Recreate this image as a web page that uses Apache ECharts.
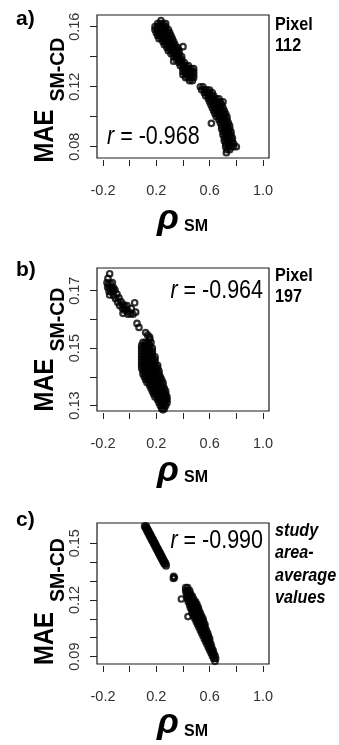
<!DOCTYPE html>
<html><head><meta charset="utf-8">
<script src="https://cdn.jsdelivr.net/npm/echarts@6/dist/echarts.min.js"></script>
<style>html,body{margin:0;padding:0;background:#fff}#c{width:339px;height:745px}</style>
</head><body><div id="c"></div>
<script>
// ---- tick values / labels ----
const xTicks = [-0.2, 0, 0.2, 0.4, 0.6, 0.8, 1.0];
const xTickLabels = [-0.2, 0.2, 0.6, 1.0];
const yTicksA = [0.08, 0.10, 0.12, 0.14, 0.16];
const yTickLabelsA = [0.08, 0.12, 0.16];
const yTicksB = [0.13, 0.14, 0.15, 0.16, 0.17];
const yTickLabelsB = [0.13, 0.15, 0.17];
const yTicksC = [0.09, 0.10, 0.11, 0.12, 0.13, 0.14, 0.15];
const yTickLabelsC = [0.09, 0.12, 0.15];
const panelLetters = ['a)', 'b)', 'c)'];
const rValues = ['-0.968', '-0.964', '-0.990'];
const sideNotes = [['Pixel', '112'], ['Pixel', '197'], ['study', 'area-', 'average', 'values']];

// ---- scatter values: rows of [MAE, [rho values...]] ----
const rowsA = [
  [0.164, [0.235]],
  [0.162, [0.21, 0.23, 0.25, 0.27]],
  [0.160, [0.19, 0.21, 0.23, 0.25, 0.27]],
  [0.158, [0.19, 0.21, 0.23, 0.25, 0.27, 0.29]],
  [0.156, [0.20, 0.22, 0.24, 0.26, 0.28, 0.30]],
  [0.154, [0.21, 0.23, 0.25, 0.27, 0.29, 0.31]],
  [0.152, [0.22, 0.24, 0.26, 0.28, 0.30, 0.32]],
  [0.150, [0.25, 0.27, 0.29, 0.31, 0.33]],
  [0.148, [0.26, 0.28, 0.30, 0.32, 0.34]],
  [0.146, [0.28, 0.30, 0.32, 0.34, 0.36]],
  [0.144, [0.29, 0.31, 0.33, 0.35, 0.37]],
  [0.142, [0.31, 0.33, 0.35, 0.37]],
  [0.140, [0.33, 0.35, 0.37, 0.39]],
  [0.138, [0.35, 0.37, 0.39]],
  [0.136, [0.37, 0.39, 0.41]],
  [0.134, [0.38, 0.40, 0.42, 0.44]],
  [0.132, [0.40, 0.42, 0.44, 0.46, 0.48]],
  [0.130, [0.40, 0.42, 0.44, 0.46, 0.48]],
  [0.128, [0.40, 0.42, 0.44, 0.46, 0.48]],
  [0.126, [0.42, 0.44, 0.46, 0.48]],
  [0.124, [0.45, 0.47]],
  [0.120, [0.53, 0.55]],
  [0.118, [0.54, 0.56, 0.58]],
  [0.116, [0.56, 0.58, 0.60, 0.62]],
  [0.114, [0.57, 0.59, 0.61, 0.63]],
  [0.112, [0.59, 0.61, 0.63, 0.65, 0.67]],
  [0.110, [0.60, 0.62, 0.64, 0.66, 0.68, 0.70]],
  [0.108, [0.61, 0.63, 0.65, 0.67, 0.69]],
  [0.106, [0.62, 0.64, 0.66, 0.68, 0.70]],
  [0.104, [0.63, 0.65, 0.67, 0.69, 0.71]],
  [0.102, [0.64, 0.66, 0.68, 0.70, 0.72]],
  [0.100, [0.65, 0.67, 0.69, 0.71, 0.73]],
  [0.098, [0.67, 0.69, 0.71, 0.73]],
  [0.096, [0.68, 0.70, 0.72, 0.74]],
  [0.094, [0.69, 0.71, 0.73, 0.75]],
  [0.092, [0.69, 0.71, 0.73, 0.75]],
  [0.090, [0.70, 0.72, 0.74, 0.76]],
  [0.088, [0.70, 0.72, 0.74, 0.76]],
  [0.086, [0.71, 0.73, 0.75, 0.77]],
  [0.084, [0.71, 0.73, 0.75, 0.77]],
  [0.082, [0.72, 0.74, 0.76, 0.78]],
  [0.080, [0.72, 0.74, 0.76, 0.78, 0.80]],
  [0.078, [0.73, 0.75]],
  [0.076, [0.725]]
];
const extraA = [[0.40, 0.1467], [0.33, 0.137], [0.60, 0.1178], [0.613, 0.0956]];

const rowsB = [
  [0.152, [0.10, 0.12, 0.14, 0.16]],
  [0.151, [0.09, 0.11, 0.13, 0.15]],
  [0.150, [0.09, 0.11, 0.13, 0.15, 0.17]],
  [0.149, [0.09, 0.11, 0.13, 0.15, 0.17]],
  [0.148, [0.09, 0.11, 0.13, 0.15, 0.17]],
  [0.147, [0.09, 0.11, 0.13, 0.15, 0.17, 0.19]],
  [0.146, [0.09, 0.11, 0.13, 0.15, 0.17, 0.19]],
  [0.145, [0.09, 0.11, 0.13, 0.15, 0.17, 0.19]],
  [0.144, [0.09, 0.11, 0.13, 0.15, 0.17, 0.19, 0.21]],
  [0.143, [0.09, 0.11, 0.13, 0.15, 0.17, 0.19, 0.21]],
  [0.142, [0.10, 0.12, 0.14, 0.16, 0.18, 0.20, 0.22]],
  [0.141, [0.10, 0.12, 0.14, 0.16, 0.18, 0.20, 0.22]],
  [0.140, [0.11, 0.13, 0.15, 0.17, 0.19, 0.21, 0.23]],
  [0.139, [0.12, 0.14, 0.16, 0.18, 0.20, 0.22, 0.24]],
  [0.138, [0.13, 0.15, 0.17, 0.19, 0.21, 0.23, 0.25]],
  [0.137, [0.15, 0.17, 0.19, 0.21, 0.23, 0.25]],
  [0.136, [0.16, 0.18, 0.20, 0.22, 0.24, 0.26]],
  [0.135, [0.17, 0.19, 0.21, 0.23, 0.25, 0.27]],
  [0.134, [0.18, 0.20, 0.22, 0.24, 0.26, 0.27]],
  [0.133, [0.19, 0.21, 0.23, 0.25, 0.27, 0.28]],
  [0.132, [0.21, 0.23, 0.25, 0.27, 0.28]],
  [0.131, [0.22, 0.24, 0.26, 0.28]],
  [0.130, [0.23, 0.25, 0.27]],
  [0.129, [0.24, 0.26]],
  [0.1285, [0.25]]
];
const extraB = [
  [-0.15, 0.1759], [-0.163, 0.1743], [-0.17, 0.1728], [-0.16, 0.1722], [-0.145, 0.1725],
  [-0.13, 0.1728], [-0.165, 0.1712], [-0.15, 0.171], [-0.135, 0.1708], [-0.12, 0.171],
  [-0.155, 0.1698], [-0.14, 0.1695], [-0.125, 0.1698], [-0.11, 0.1702], [-0.15, 0.1685],
  [-0.12, 0.1682], [-0.095, 0.1688], [-0.105, 0.1672], [-0.08, 0.1675], [-0.09, 0.166],
  [-0.065, 0.1662], [-0.075, 0.1648], [-0.05, 0.1652], [-0.035, 0.1645], [-0.02, 0.1648],
  [0.0375, 0.1658], [-0.055, 0.164], [-0.04, 0.1632], [-0.025, 0.1635], [-0.01, 0.1628],
  [0.0125, 0.1638], [-0.05, 0.1621], [-0.0125, 0.1618], [0.005, 0.162], [0.045, 0.1625],
  [0.025, 0.1618], [0.055, 0.1586], [0.07, 0.1572], [0.12, 0.1554], [0.135, 0.1545],
  [0.15, 0.1538], [0.15, 0.1531]
];

const rowsC = [
  [0.159, [0.112, 0.124]],
  [0.158, [0.119, 0.131]],
  [0.157, [0.127, 0.139]],
  [0.156, [0.134, 0.146]],
  [0.155, [0.142, 0.154]],
  [0.154, [0.149, 0.161]],
  [0.153, [0.156, 0.168]],
  [0.152, [0.164, 0.176]],
  [0.151, [0.171, 0.183]],
  [0.150, [0.179, 0.191]],
  [0.149, [0.186, 0.198]],
  [0.148, [0.193, 0.205]],
  [0.147, [0.201, 0.213]],
  [0.146, [0.208, 0.22]],
  [0.145, [0.216, 0.228]],
  [0.144, [0.223, 0.235]],
  [0.143, [0.23, 0.242]],
  [0.142, [0.238, 0.25]],
  [0.141, [0.245, 0.257]],
  [0.140, [0.253, 0.265]],
  [0.139, [0.26, 0.272]],
  [0.138, [0.273]],
  [0.1325, [0.33]],
  [0.1318, [0.335]],
  [0.1314, [0.328]],
  [0.1265, [0.42, 0.435]],
  [0.125, [0.42, 0.435, 0.45]],
  [0.1235, [0.425, 0.44, 0.455]],
  [0.122, [0.43, 0.445, 0.46, 0.47]],
  [0.1205, [0.435, 0.45, 0.465, 0.48]],
  [0.119, [0.44, 0.455, 0.47, 0.485, 0.495]],
  [0.1175, [0.45, 0.465, 0.48, 0.495, 0.505]],
  [0.116, [0.455, 0.47, 0.485, 0.50, 0.515]],
  [0.1145, [0.465, 0.48, 0.495, 0.51, 0.52]],
  [0.113, [0.47, 0.485, 0.50, 0.515, 0.53]],
  [0.1115, [0.48, 0.495, 0.51, 0.525, 0.54]],
  [0.110, [0.49, 0.505, 0.52, 0.535, 0.55]],
  [0.1085, [0.50, 0.515, 0.53, 0.545, 0.555]],
  [0.107, [0.51, 0.525, 0.54, 0.555, 0.565]],
  [0.1055, [0.52, 0.535, 0.55, 0.565]],
  [0.104, [0.53, 0.545, 0.56, 0.575]],
  [0.1025, [0.54, 0.555, 0.57, 0.585]],
  [0.101, [0.55, 0.565, 0.58, 0.59]],
  [0.0995, [0.56, 0.575, 0.59, 0.60]],
  [0.098, [0.57, 0.585, 0.60]],
  [0.0965, [0.58, 0.595, 0.61]],
  [0.095, [0.59, 0.605, 0.615]],
  [0.0935, [0.60, 0.615, 0.625]],
  [0.092, [0.61, 0.62, 0.63]],
  [0.0905, [0.62, 0.63, 0.64]],
  [0.089, [0.63, 0.645]],
  [0.0875, [0.64]]
];
const extraC = [[0.388, 0.1205], [0.4375, 0.1112]];

// ---- reshape rows into [x, y] pairs ----
function toPairs(rows, extra) {
  const out = [];
  rows.forEach(r => r[1].forEach(x => out.push([x, r[0]])));
  return out.concat(extra);
}

const FONT = '"Liberation Sans", Arial, Helvetica, sans-serif';

// layout (pixel positions of boxes and texts)
const panels = [
  { top: 15, h: 143, ymin: 0.0725, ymax: 0.1678, ticks: yTicksA, labels: yTickLabelsA, data: toPairs(rowsA, extraA),
    letterY: 19, rX: 107, rY: 137, rAlign: 'left', noteY: 25, rhoY: 219, smY: 227, maeY: 136, subY: 69.5 },
  { top: 268, h: 143, ymin: 0.1281, ymax: 0.1779, ticks: yTicksB, labels: yTickLabelsB, data: toPairs(rowsB, extraB),
    letterY: 270, rX: 263, rY: 291, rAlign: 'right', noteY: 276.5, rhoY: 471, smY: 478, maeY: 385, subY: 319.5 },
  { top: 523, h: 141, ymin: 0.0861, ymax: 0.1607, ticks: yTicksC, labels: yTickLabelsC, data: toPairs(rowsC, extraC),
    letterY: 520, rX: 263, rY: 541, rAlign: 'right', noteY: 531, rhoY: 723, smY: 732, maeY: 638.5, subY: 570, italicNote: true }
];

const grids = [], xAxes = [], yAxes = [], series = [], graphics = [];

function text(x, y, str, font, align, extra) {
  return Object.assign({
    type: 'text', x: x, y: y, silent: true,
    style: { text: str, font: font, fill: '#000', align: align, textAlign: align,
             verticalAlign: 'middle', textVerticalAlign: 'middle' }
  }, extra || {});
}

panels.forEach((p, i) => {
  grids.push({ left: 97, top: p.top, width: 172, height: p.h, show: true,
    borderColor: '#1a1a1a', borderWidth: 1.2, backgroundColor: 'transparent', containLabel: false });
  xAxes.push({
    gridIndex: i, type: 'value', min: -0.245, max: 1.045, offset: 2, position: 'bottom',
    axisLine: { show: false, onZero: false },
    axisTick: { show: true, length: 6, customValues: xTicks, lineStyle: { color: '#222', width: 1 } },
    axisLabel: { show: true, customValues: xTickLabels, formatter: v => v.toFixed(1), margin: 23,
      fontSize: 14.5, color: '#333', fontFamily: FONT, hideOverlap: false },
    splitLine: { show: false }
  });
  yAxes.push({
    gridIndex: i, type: 'value', min: p.ymin, max: p.ymax, position: 'left',
    axisLine: { show: false, onZero: false },
    axisTick: { show: true, length: 7, customValues: p.ticks, lineStyle: { color: '#222', width: 1 } },
    axisLabel: { show: true, customValues: p.labels, formatter: v => v.toFixed(2), rotate: 90, margin: 15,
      fontSize: 14.5, color: '#333', fontFamily: FONT, hideOverlap: false },
    splitLine: { show: false }
  });
  series.push({
    type: 'scatter', xAxisIndex: i, yAxisIndex: i, data: p.data,
    symbol: 'circle', symbolSize: 5.5, silent: true, animation: false,
    itemStyle: { color: 'rgba(0,0,0,0)', borderColor: '#000', borderWidth: 2.2 },
    emphasis: { disabled: true }
  });

  // panel letter
  graphics.push(text(16, p.letterY, panelLetters[i], 'bold 21px ' + FONT, 'left'));
  // correlation text
  graphics.push({
    type: 'text', x: p.rX, y: p.rY, silent: true, scaleX: 0.86,
    style: { text: '{i|r} = ' + rValues[i], font: '25px ' + FONT, fill: '#000',
      align: p.rAlign, textAlign: p.rAlign, verticalAlign: 'middle', textVerticalAlign: 'middle',
      rich: { i: { fontStyle: 'italic', fontSize: 25, fontFamily: FONT, fill: '#000' } } }
  });
  // side notes
  const noteFont = (p.italicNote ? 'italic bold 18px ' : 'bold 18px ') + FONT;
  const step = p.italicNote ? 22.5 : 21;
  sideNotes[i].forEach((s, k) => {
    graphics.push(text(275, p.noteY + k * step, s, noteFont, 'left', { scaleX: 0.9 }));
  });
  // x title: rho with subscript SM
  graphics.push(text(168, p.rhoY, 'ρ', 'italic bold 36px ' + FONT, 'center'));
  graphics.push(text(184, p.smY, 'SM', 'bold 16px ' + FONT, 'left'));
  // y title: MAE with subscript SM-CD (rotated)
  graphics.push(text(45, p.maeY, 'MAE', 'bold 28px ' + FONT, 'center', { rotation: Math.PI / 2, scaleX: 0.85 }));
  graphics.push(text(59, p.subY, 'SM-CD', 'bold 19.5px ' + FONT, 'center', { rotation: Math.PI / 2 }));
});

const chart = echarts.init(document.getElementById('c'), null, { renderer: 'canvas' });
chart.setOption({
  animation: false,
  backgroundColor: '#fff',
  grid: grids, xAxis: xAxes, yAxis: yAxes, series: series,
  graphic: { elements: graphics }
});
</script></body></html>
